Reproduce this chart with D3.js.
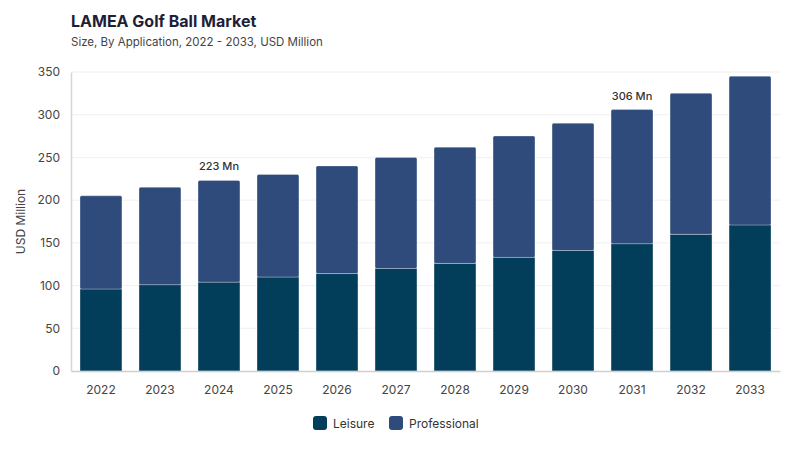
<!DOCTYPE html>
<html>
<head>
<meta charset="utf-8">
<script src="https://cdn.jsdelivr.net/npm/d3@7"></script>
<style>
  body { margin: 0; background: #fff; }
  svg { font-family: Inter, "Noto Sans", sans-serif; }
</style>
</head>
<body>
<svg id="chart" width="800" height="450"></svg>
<script>
var years = ['2022', '2023', '2024', '2025', '2026', '2027', '2028', '2029', '2030', '2031', '2032', '2033'];
var leisure = [96, 101, 104, 110, 114, 120, 126, 133, 141, 149, 160, 171];
var professional = [109, 114, 119, 120, 126, 130, 136, 142, 149, 157, 165, 174];
var seriesNames = ['Leisure', 'Professional'];
var seriesColors = ['#023d5a', '#2e4b7b'];
var yTicks = [0, 50, 100, 150, 200, 250, 300, 350];
var callouts = [{ year: '2024', label: '223 Mn' }, { year: '2031', label: '306 Mn' }];

var svg = d3.select('#chart');
var margin = { top: 72, right: 20, bottom: 79, left: 71 };
var width = 800 - margin.left - margin.right;
var height = 450 - margin.top - margin.bottom;

svg.append('text')
    .attr('x', 71).attr('y', 27)
    .attr('font-size', 16).attr('font-weight', 700)
    .attr('fill', '#1e1e36')
    .text('LAMEA Golf Ball Market');

svg.append('text')
    .attr('x', 71).attr('y', 46)
    .attr('font-size', 11.5)
    .attr('fill', '#444')
    .text('Size, By Application, 2022 - 2033, USD Million');

var g = svg.append('g').attr('transform', 'translate(' + margin.left + ',' + margin.top + ')');

var x = d3.scaleBand().domain(years).range([0, width]).paddingInner(0.29).paddingOuter(0.153);
var y = d3.scaleLinear().domain([0, 350]).range([height, 0]);

// grid
g.selectAll('.grid').data(yTicks.slice(1)).enter().append('line')
    .attr('x1', 0).attr('x2', width)
    .attr('y1', function(d) { return y(d); })
    .attr('y2', function(d) { return y(d); })
    .attr('stroke', '#f0f0f0');

var stacked = years.map(function(yr, i) {
    return { year: yr, Leisure: leisure[i], Professional: professional[i] };
});
var stack = d3.stack().keys(seriesNames)(stacked);

stack.forEach(function(layer, li) {
    g.append('g').selectAll('rect').data(layer).enter().append('rect')
        .attr('x', function(d) { return x(d.data.year); })
        .attr('y', function(d) { return y(d[1]); })
        .attr('width', x.bandwidth())
        .attr('height', function(d) { return y(d[0]) - y(d[1]); })
        .attr('rx', li === 1 ? 1.5 : 0)
        .attr('fill', seriesColors[li])
        .attr('stroke', 'rgba(255,255,255,0.35)')
        .attr('stroke-width', 0.8);
});

// axes
var yAxis = g.append('g').call(d3.axisLeft(y).tickValues(yTicks).tickSize(0).tickPadding(11));
yAxis.select('.domain').attr('stroke', '#d6d6d6').attr('stroke-width', 1.5);
yAxis.selectAll('text').attr('font-size', 12).attr('fill', '#444').attr('font-family', 'Inter, sans-serif');

var xAxis = g.append('g').attr('transform', 'translate(0,' + height + ')')
    .call(d3.axisBottom(x).tickSize(0).tickPadding(14));
xAxis.select('.domain').attr('stroke', '#cfcfcf').attr('stroke-width', 1.5);
xAxis.selectAll('text').attr('font-size', 12).attr('fill', '#444').attr('font-family', 'Inter, sans-serif');

svg.append('text')
    .attr('transform', 'translate(25,' + (margin.top + height / 2) + ') rotate(-90)')
    .attr('text-anchor', 'middle')
    .attr('font-size', 12).attr('fill', '#444')
    .text('USD Million');

// callouts
callouts.forEach(function(c) {
    var i = years.indexOf(c.year);
    g.append('text')
        .attr('x', x(c.year) + x.bandwidth() / 2)
        .attr('y', y(leisure[i] + professional[i]) - 10)
        .attr('text-anchor', 'middle')
        .attr('font-size', 11).attr('font-weight', 500)
        .attr('fill', '#333')
        .text(c.label);
});

// legend
var legendX = [313, 389];
seriesNames.forEach(function(name, i) {
    var lg = svg.append('g').attr('transform', 'translate(' + legendX[i] + ',416)');
    lg.append('rect').attr('width', 14).attr('height', 14).attr('rx', 3).attr('fill', seriesColors[i]);
    lg.append('text').attr('x', 20).attr('y', 11.5)
        .attr('font-size', 12).attr('fill', '#333')
        .text(name);
});
</script>
</body>
</html>
